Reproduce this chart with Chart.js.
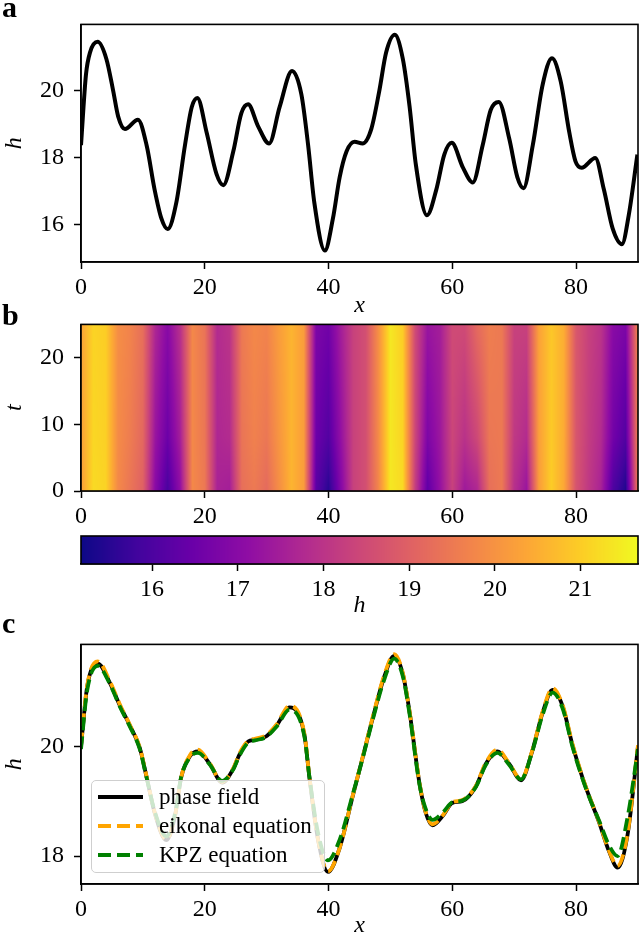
<!DOCTYPE html>
<html>
<head>
<meta charset="utf-8">
<script src="https://cdn.jsdelivr.net/npm/chart.js@4.4.0/dist/chart.umd.min.js"></script>
<style>
  html, body { margin: 0; padding: 0; background: #fff; }
  #wrap { position: relative; width: 640px; height: 937px; overflow: hidden; font-family: 'Liberation Serif', 'DejaVu Serif', serif; }
  canvas { position: absolute; left: 0; }
  .tag { position: absolute; left: 2px; font-weight: bold; font-size: 30px; line-height: 30px; }
  #legend { position: absolute; left: 91px; top: 780px; width: 234px; height: 93px; box-sizing: border-box;
            background: rgba(255,255,255,0.8); border: 1.5px solid #cfcfcf; border-radius: 5px; font-size: 23px; }
  #legend .row { position: absolute; left: 0; height: 29px; width: 230px; }
  #legend .sw { position: absolute; left: 6px; top: 13px; width: 45px; height: 4px; }
  #legend .lab { position: absolute; left: 67px; top: 0; line-height: 29px; white-space: nowrap; }
</style>
</head>
<body>
<div id="wrap">
  <canvas id="ca" width="640" height="320" style="top:0px"></canvas>
  <canvas id="cb" width="640" height="240" style="top:300px"></canvas>
  <canvas id="cbar" width="640" height="90" style="top:530px"></canvas>
  <canvas id="cc" width="640" height="317" style="top:620px"></canvas>
  <div class="tag" style="top:-8px">a</div>
  <div class="tag" style="top:300px">b</div>
  <div class="tag" style="top:608px">c</div>
  <div id="legend"></div>
</div>
<script>
// 축 눈금
const xTicks = [0, 20, 40, 60, 80];
const aHTicks = [16, 18, 20];
const tTicks = [0, 10, 20];
const cHTicks = [18, 20];
const cbTicks = [16, 17, 18, 19, 20, 21];

// 패널 a: 초기 높이 h(x)
const aX = [0, 0.8, 1.45, 2.7, 4.1, 5.2, 6.0, 7.1, 9.2, 10.6, 11.9, 13.0, 14.0, 15.4, 16.8, 17.9,
            18.8, 20.3, 21.9, 23.0, 24.6, 25.9, 27.0, 28.6, 30.4, 32.1, 34.1, 35.6, 36.7, 37.7, 39.4, 40.7,
            41.8, 42.9, 44.2, 45.5, 46.9, 48.2, 49.3, 50.7, 52.0, 53.1, 54.1, 55.9, 57.4, 58.7, 59.9, 61.7,
            63.3, 64.9, 66.2, 67.5, 69.2, 70.5, 71.5, 73.0, 74.6, 76.1, 77.5, 78.9, 79.9, 80.9, 83.1, 84.5,
            85.9, 87.4, 88.5, 89.9];
const aH = [18.37, 20.47, 21.13, 21.45, 20.94, 19.99, 19.23, 18.85, 19.13, 18.37, 17.04, 16.18, 15.87, 16.66, 18.37, 19.51,
            19.78, 18.75, 17.51, 17.18, 18.18, 19.32, 19.59, 18.94, 18.42, 19.51, 20.58, 19.89, 18.37, 16.66, 15.23, 16.18,
            17.42, 18.18, 18.47, 18.42, 18.85, 19.99, 21.13, 21.66, 20.94, 19.51, 17.8, 16.28, 17.04, 18.09, 18.44, 17.71,
            17.26, 18.37, 19.42, 19.66, 18.56, 17.42, 17.09, 18.37, 20.18, 20.96, 20.28, 18.75, 17.89, 17.7, 17.99, 17.04,
            15.89, 15.42, 16.28, 18.09];

// 패널 b: 시공간 히트맵 (열 x, 행 t)
const hmX = [0, 2, 4, 6, 8, 10, 12, 14, 16, 18, 20, 22, 24, 26, 28, 30, 32, 34, 36, 38, 40, 42, 44,
             46, 48, 50, 52, 54, 56, 58, 60, 62, 64, 66, 68, 70, 72, 74, 76, 78, 80, 82, 84, 86, 88, 90];
const hmT = [0, 8, 25];
const hmT0 = [20.2, 21.2, 21.1, 19.8, 19.4, 19.0, 17.0, 15.95, 17.1, 19.8, 19.5, 17.6, 17.5, 19.3, 19.5, 19.2,
              19.9, 20.6, 20.2, 16.2, 15.5, 16.9, 18.3, 18.6, 19.7, 21.4, 21.2, 18.2, 16.3, 17.2, 18.3, 17.4,
              17.7, 19.3, 19.5, 17.9, 17.3, 20.2, 21.0, 20.4, 18.7, 18.1, 17.6, 16.0, 15.4, 19.6];
const hmT8 = [20.25, 21.15, 21.05, 19.85, 19.55, 19.15, 17.3, 16.5, 17.5, 19.8, 19.45, 17.7, 17.8, 19.4, 19.65, 19.45,
              20.05, 20.6, 20.2, 16.5, 16.1, 17.2, 18.3, 18.6, 19.8, 21.4, 21.1, 18.4, 16.8, 17.35, 18.4, 17.95,
              18.45, 19.45, 19.5, 18.1, 17.8, 20.25, 20.95, 20.45, 18.75, 18.2, 17.8, 16.6, 16.1, 19.7];
const hmT25 = [20.3, 21.1, 21.0, 19.9, 19.7, 19.3, 17.7, 17.0, 17.9, 19.8, 19.4, 17.8, 18.0, 19.5, 19.8, 19.7,
               20.2, 20.6, 20.2, 16.8, 16.6, 17.5, 18.3, 18.6, 19.9, 21.4, 21.0, 18.5, 17.3, 17.5, 18.5, 18.5,
               19.2, 19.6, 19.5, 18.3, 18.3, 20.3, 20.9, 20.5, 18.8, 18.3, 18.0, 17.0, 16.8, 19.8];
const hmRows = [hmT0, hmT8, hmT25];

// 컬러바 범위
const cbMin = 15.17, cbMax = 21.67;

// 패널 c: 세 모델 비교
const seriesNames = ['phase field', 'eikonal equation', 'KPZ equation'];
const cX = [0, 1.0, 2.7, 4.7, 6.3, 7.9, 9.5, 10.6, 11.9, 13.8, 15.2, 16.2, 17.6, 18.9, 20.8, 22.8,
            24.6, 25.6, 27.0, 28.1, 29.9, 31.6, 33.7, 36.1, 36.9, 38.3, 39.9, 41.8, 43.9, 45.5, 47.1, 49.0,
            50.6, 52.0, 53.1, 54.7, 55.7, 56.8, 58.5, 60.0, 61.6, 63.8, 65.4, 67.3, 69.2, 71.1, 72.9, 74.6,
            76.2, 77.8, 79.4, 81.0, 82.1, 83.7, 85.3, 86.7, 88.3, 90];
const cPhase = [20.0, 21.09, 21.51, 21.15, 20.74, 20.38, 19.97, 19.44, 18.79, 18.29, 18.74, 19.44, 19.82, 19.91, 19.68, 19.34,
                19.59, 19.85, 20.09, 20.12, 20.18, 20.38, 20.71, 20.21, 19.44, 18.3, 17.71, 18.15, 19.09, 19.79, 20.5, 21.27,
                21.65, 21.32, 20.62, 19.32, 18.79, 18.56, 18.74, 18.97, 19.0, 19.27, 19.68, 19.91, 19.68, 19.38, 19.91, 20.62,
                21.03, 20.74, 20.03, 19.44, 19.09, 18.62, 18.09, 17.79, 18.38, 20.0];
const cEikonal = [20.02, 21.11, 21.55, 21.18, 20.76, 20.39, 19.98, 19.45, 18.8, 18.3, 18.74, 19.44, 19.84, 19.94, 19.69, 19.35,
                  19.6, 19.87, 20.1, 20.14, 20.2, 20.4, 20.74, 20.23, 19.45, 18.3, 17.72, 18.15, 19.1, 19.8, 20.52, 21.3,
                  21.68, 21.34, 20.63, 19.33, 18.8, 18.58, 18.75, 18.98, 19.02, 19.28, 19.7, 19.94, 19.69, 19.4, 19.92, 20.64,
                  21.06, 20.76, 20.05, 19.45, 19.1, 18.63, 18.1, 17.82, 18.4, 20.02];
const cKpz = [19.95, 21.02, 21.47, 21.13, 20.72, 20.36, 19.95, 19.43, 18.82, 18.36, 18.78, 19.45, 19.8, 19.88, 19.67, 19.37,
              19.58, 19.83, 20.07, 20.11, 20.17, 20.36, 20.67, 20.18, 19.45, 18.42, 17.92, 18.3, 19.12, 19.78, 20.47, 21.22,
              21.6, 21.28, 20.58, 19.3, 18.86, 18.66, 18.8, 18.98, 19.01, 19.26, 19.66, 19.88, 19.66, 19.4, 19.9, 20.58,
              20.98, 20.7, 20.0, 19.42, 19.08, 18.65, 18.2, 18.0, 18.7, 19.95];

// plasma 컬러맵 (0, 0.1, ..., 1)
const plasmaStops = ['#0d0887', '#41049d', '#6a00a8', '#8f0da4', '#b12a90', '#cc4778',
                     '#e16462', '#f2844b', '#fca636', '#fcce25', '#f0f921'];
const plasmaRgb = plasmaStops.map(c => [1, 3, 5].map(i => parseInt(c.substr(i, 2), 16)));

function plasma(v) {
    let f = (v - cbMin) / (cbMax - cbMin);
    f = Math.max(0, Math.min(1, f)) * (plasmaRgb.length - 1);
    const i = Math.min(Math.floor(f), plasmaRgb.length - 2), r = f - i;
    const a = plasmaRgb[i], b = plasmaRgb[i + 1];
    return [0, 1, 2].map(k => Math.round(a[k] + (b[k] - a[k]) * r));
}

function locate(arr, v) {
    let i = 0;
    while (i < arr.length - 2 && v > arr[i + 1]) i++;
    const r = Math.max(0, Math.min(1, (v - arr[i]) / (arr[i + 1] - arr[i])));
    return [i, r];
}

// 격자 값 읽기 (렌더링용 쌍선형 보간)
function sampleGrid(x, t) {
    const [i, rx] = locate(hmX, x);
    const [j, rt] = locate(hmT, t);
    const lo = hmRows[j][i] * (1 - rx) + hmRows[j][i + 1] * rx;
    const hi = hmRows[j + 1][i] * (1 - rx) + hmRows[j + 1][i + 1] * rx;
    return lo * (1 - rt) + hi * rt;
}

Chart.defaults.font.family = "'Liberation Serif', 'DejaVu Serif', serif";
Chart.defaults.font.size = 24;
Chart.defaults.color = '#000';

// 플롯 영역 테두리
const frame = {
    id: 'frame',
    afterDraw(chart) {
        const { ctx, chartArea: a } = chart;
        ctx.save();
        ctx.strokeStyle = '#000';
        ctx.lineWidth = 1.6;
        ctx.strokeRect(a.left, a.top, a.right - a.left, a.bottom - a.top);
        ctx.restore();
    }
};

// 히트맵 그리기
const heatmap = {
    id: 'heatmap',
    beforeDatasetsDraw(chart) {
        const { ctx, chartArea: a, scales } = chart;
        const w = Math.round(a.right - a.left), h = Math.round(a.bottom - a.top);
        const off = document.createElement('canvas');
        off.width = w; off.height = h;
        const octx = off.getContext('2d');
        const img = octx.createImageData(w, h);
        for (let j = 0; j < h; j++) {
            const t = scales.y.getValueForPixel(a.top + j + 0.5);
            for (let i = 0; i < w; i++) {
                const x = scales.x.getValueForPixel(a.left + i + 0.5);
                const c = plasma(sampleGrid(x, t));
                const k = (j * w + i) * 4;
                img.data[k] = c[0]; img.data[k + 1] = c[1]; img.data[k + 2] = c[2]; img.data[k + 3] = 255;
            }
        }
        octx.putImageData(img, 0, 0);
        ctx.drawImage(off, a.left, a.top);
    }
};

// 컬러바 그리기
const colorbar = {
    id: 'colorbar',
    beforeDatasetsDraw(chart) {
        const { ctx, chartArea: a, scales } = chart;
        for (let px = a.left; px < a.right; px++) {
            const c = plasma(scales.x.getValueForPixel(px + 0.5));
            ctx.fillStyle = 'rgb(' + c.join(',') + ')';
            ctx.fillRect(px, a.top, 1, a.bottom - a.top);
        }
    }
};

function axis(min, max, tickVals, o) {
    return {
        type: 'linear', min: min, max: max, display: o.display !== false,
        afterBuildTicks: s => { s.ticks = tickVals.map(v => ({ value: v })); },
        afterFit: s => { if (s.isHorizontal()) s.height = o.size; else s.width = o.size; },
        ticks: { color: '#000', padding: o.pad, maxRotation: 0, autoSkip: false, font: { size: 24 } },
        grid: { drawOnChartArea: false, drawTicks: true, tickLength: 7, tickWidth: 1.5, color: '#000' },
        border: { display: true, color: '#000', width: 1.6 },
        title: { display: !!o.title, text: o.title || '', color: '#000',
                 font: { size: 24, style: 'italic' }, padding: o.titlePad || 0 }
    };
}

const base = {
    responsive: false, animation: false, events: [],
    plugins: { legend: { display: false }, tooltip: { enabled: false } }
};

// 패널 a
new Chart(document.getElementById('ca'), {
    type: 'line',
    data: { datasets: [{
        data: aX.map((x, i) => ({ x: x, y: aH[i] })),
        borderColor: '#000', borderWidth: 4, pointRadius: 0, cubicInterpolationMode: 'monotone'
    }] },
    options: Object.assign({}, base, {
        layout: { padding: { top: 14, right: 2, left: 0, bottom: 0 } },
        scales: {
            x: axis(0, 90, xTicks, { size: 58, pad: 4, title: 'x' }),
            y: axis(14.89, 21.97, aHTicks, { size: 81, pad: 10, title: 'h' })
        }
    }),
    plugins: [frame]
});

// 패널 b
new Chart(document.getElementById('cb'), {
    type: 'scatter',
    data: { datasets: [] },
    options: Object.assign({}, base, {
        layout: { padding: { top: 24, right: 2, left: 0, bottom: 0 } },
        scales: {
            x: axis(0, 90, xTicks, { size: 49, pad: 4 }),
            y: axis(0, 25, tTicks, { size: 81, pad: 10, title: 't' })
        }
    }),
    plugins: [heatmap, frame]
});

// 컬러바
new Chart(document.getElementById('cbar'), {
    type: 'scatter',
    data: { datasets: [] },
    options: Object.assign({}, base, {
        layout: { padding: { top: 6, right: 2, left: 81, bottom: 0 } },
        scales: {
            x: axis(cbMin, cbMax, cbTicks, { size: 56, pad: 4, title: 'h' }),
            y: axis(0, 1, [], { size: 0, pad: 0, display: false })
        }
    }),
    plugins: [colorbar, frame]
});

// 패널 c
const colorsC = ['#000000', '#ffa500', '#008000'];
const valuesC = [cPhase, cEikonal, cKpz];
const chartC = new Chart(document.getElementById('cc'), {
    type: 'line',
    data: { datasets: seriesNames.map((name, k) => ({
        label: name,
        data: cX.map((x, i) => ({ x: x, y: valuesC[k][i] })),
        borderColor: colorsC[k], borderWidth: 3.8, pointRadius: 0,
        borderDash: k === 0 ? [] : [13, 6],
        cubicInterpolationMode: 'monotone',
        order: 3 - k
    })) },
    options: Object.assign({}, base, {
        layout: { padding: { top: 16, right: 2, left: 0, bottom: 0 } },
        scales: {
            x: axis(0, 90, xTicks, { size: 53, pad: 4, title: 'x', titlePad: { top: 0, bottom: -3 } }),
            y: axis(17.49, 21.86, cHTicks, { size: 81, pad: 10, title: 'h' })
        }
    }),
    plugins: [frame]
});

// 범례
const legend = document.getElementById('legend');
chartC.data.datasets.forEach((ds, k) => {
    const row = document.createElement('div');
    row.className = 'row';
    row.style.top = (1 + k * 29) + 'px';
    const sw = document.createElement('span');
    sw.className = 'sw';
    sw.style.background = ds.borderDash.length
        ? 'repeating-linear-gradient(to right, ' + ds.borderColor + ' 0 13px, transparent 13px 19px)'
        : ds.borderColor;
    const lab = document.createElement('span');
    lab.className = 'lab';
    lab.textContent = ds.label;
    row.appendChild(sw);
    row.appendChild(lab);
    legend.appendChild(row);
});
</script>
</body>
</html>
